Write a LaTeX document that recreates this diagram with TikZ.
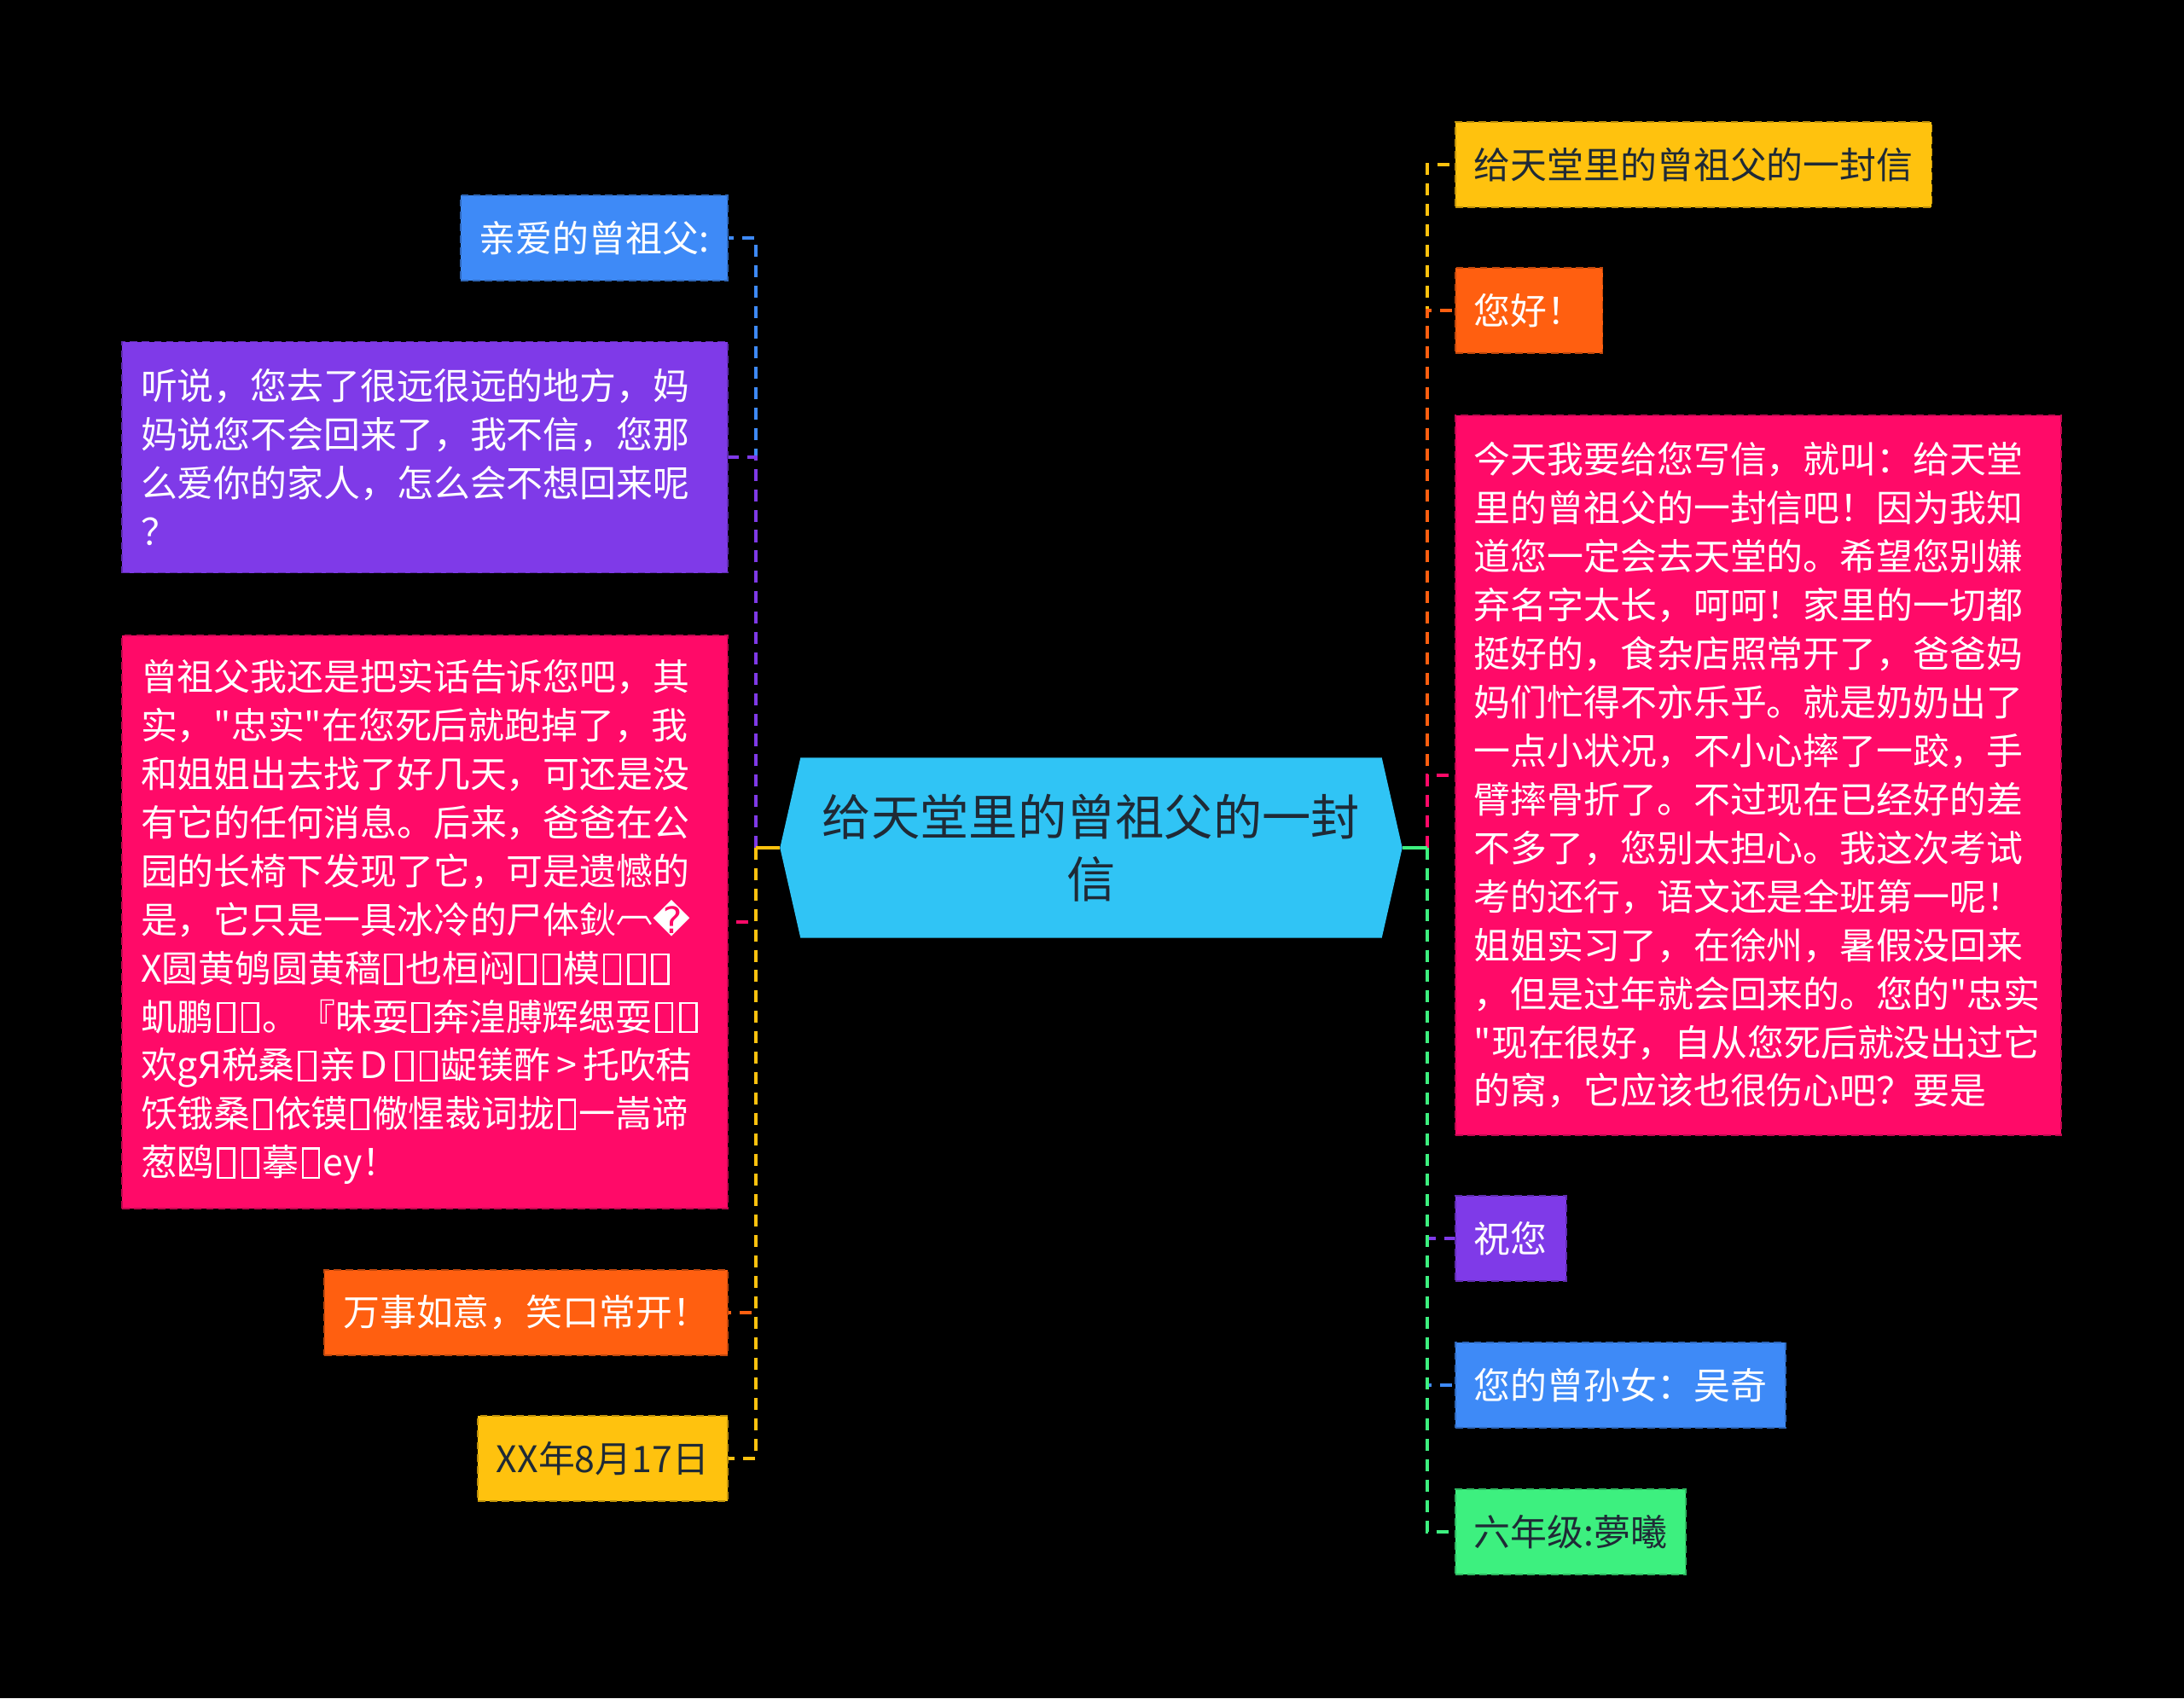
\documentclass[tikz,border=0pt]{standalone}
\usepackage{fontspec}
\setmainfont{Noto Sans CJK SC}[Ligatures=TeXOff]
\newfontfamily\dejavu{DejaVu Sans}
\usetikzlibrary{positioning,backgrounds}

\definecolor{cblue}{HTML}{3E8AF7}
\definecolor{cpurple}{HTML}{7F3AE8}
\definecolor{cpink}{HTML}{FF0A68}
\definecolor{corange}{HTML}{FF5F10}
\definecolor{cyellow}{HTML}{FFC20E}
\definecolor{cgreen}{HTML}{3DF07F}
\definecolor{ccyan}{HTML}{30C4F5}
\definecolor{ctext}{HTML}{1F2A36}

% empty glyph box as printed in the picture
\newcommand\tofu{\kern.08em\raisebox{-.02em}{\setlength\fboxsep{0pt}\setlength\fboxrule{.06em}\fbox{\rule{0pt}{.74em}\rule{.38em}{0pt}}}\kern.08em}

\begin{document}
\begin{tikzpicture}[
    topic/.style={rectangle, fill=#1, draw=#1!75!black, dash pattern=on 2.5pt off 1.5pt, line width=0.5pt, inner xsep=0.22cm, inner ysep=0pt, minimum height=1cm, text=white, font=\fontsize{12.2pt}{16.2pt}\selectfont},
    para/.style={text width=6.66cm, align=left},
    dark/.style={text=ctext},
    limb/.style={draw=#1, line width=1.1pt, dash pattern=on 4pt off 2.8pt},
    joint/.style={draw=#1, line width=1.1pt}
]
    \useasboundingbox (0,0) rectangle (25.6,-19.91);
    \begin{scope}[on background layer]
        \fill[black] (0,0) rectangle (25.6,-19.91);
    \end{scope}

    % centre
    \node[font=\fontsize{16.3pt}{20.9pt}\selectfont, text=ctext, align=center, minimum width=7.28cm, minimum height=2.1cm, inner sep=0pt] (root) at (12.79,-9.94) {给天堂里的曾祖父的一封\\信};
    \begin{scope}[on background layer]
        \fill[ccyan] ([xshift=0.24cm]root.north west) -- ([xshift=-0.24cm]root.north east) -- (root.east) -- ([xshift=-0.24cm]root.south east) -- ([xshift=0.24cm]root.south west) -- (root.west) -- cycle;
    \end{scope}
    \coordinate (lhub) at (8.86,-9.94);
    \coordinate (rhub) at (16.73,-9.94);

    % left side
    \node[topic=cblue, anchor=east] (dear) at (8.54,-2.79) {亲爱的曾祖父:};
    \node[topic=cpurple, para, anchor=east, minimum height=2.71cm] (heard) at (8.54,-5.36) {听说，您去了很远很远的地方，妈\\妈说您不会回来了，我不信，您那\\么爱你的家人，怎么会不想回来呢\\？};
    \node[topic=cpink, para, anchor=east, minimum height=6.72cm] (truth) at (8.54,-10.81) {曾祖父我还是把实话告诉您吧，其\\实，"忠实"在您死后就跑掉了，我\\和姐姐出去找了好几天，可还是没\\有它的任何消息。后来，爸爸在公\\园的长椅下发现了它，可是遗憾的\\是，它只是一具冰冷的尸体鈥\raisebox{.3em}{︹}{\dejavu �}\\X圆黄鸲圆黄穑\tofu 也桓闷\tofu\tofu 模\tofu\tofu\tofu\\虮鹏\tofu\tofu 。『昧耍\tofu 奔湟膊辉缌耍\tofu\tofu\\欢gЯ税桑\tofu 亲Ｄ\tofu\tofu 龊镁酢\,>\,托吹秸\\饫锇桑\tofu 依镆\tofu 儆惺裁词拢\tofu 一嵩谛\\葱鸥\tofu\tofu 摹\tofu ey！};
    \node[topic=corange, anchor=east] (wish) at (8.54,-15.39) {万事如意，笑口常开！};
    \node[topic=cyellow, dark, anchor=east] (date) at (8.54,-17.10) {XX年8月17日};

    % right side
    \node[topic=cyellow, dark, anchor=west] (title) at (17.05,-1.93) {给天堂里的曾祖父的一封信};
    \node[topic=corange, anchor=west] (hello) at (17.05,-3.64) {您好！};
    \node[topic=cpink, para, anchor=west, minimum height=8.44cm] (today) at (17.05,-9.09) {今天我要给您写信，就叫：给天堂\\里的曾祖父的一封信吧！因为我知\\道您一定会去天堂的。希望您别嫌\\弃名字太长，呵呵！家里的一切都\\挺好的，食杂店照常开了，爸爸妈\\妈们忙得不亦乐乎。就是奶奶出了\\一点小状况，不小心摔了一跤，手\\臂摔骨折了。不过现在已经好的差\\不多了，您别太担心。我这次考试\\考的还行，语文还是全班第一呢！\\姐姐实习了，在徐州，暑假没回来\\，但是过年就会回来的。您的"忠实\\"现在很好，自从您死后就没出过它\\的窝，它应该也很伤心吧？要是};
    \node[topic=cpurple, anchor=west] (bless) at (17.05,-14.52) {祝您};
    \node[topic=cblue, anchor=west] (signer) at (17.05,-16.24) {您的曾孙女：吴奇};
    \node[topic=cgreen, dark, anchor=west] (grade) at (17.05,-17.96) {六年级:夢曦};

    % connectors, left
    \draw[joint=cblue] (root.west) -- (lhub);
    \draw[limb=cblue] (lhub) |- (dear.east);
    \draw[joint=cpurple] (root.west) -- (lhub);
    \draw[limb=cpurple] (lhub) |- (heard.east);
    \draw[joint=cpink] (root.west) -- (lhub);
    \draw[limb=cpink] (lhub) |- (truth.east);
    \draw[joint=corange] (root.west) -- (lhub);
    \draw[limb=corange] (lhub) |- (wish.east);
    \draw[joint=cyellow] (root.west) -- (lhub);
    \draw[limb=cyellow] (lhub) |- (date.east);

    % connectors, right
    \draw[joint=cyellow] (root.east) -- (rhub);
    \draw[limb=cyellow] (rhub) |- (title.west);
    \draw[joint=corange] (root.east) -- (rhub);
    \draw[limb=corange] (rhub) |- (hello.west);
    \draw[joint=cpink] (root.east) -- (rhub);
    \draw[limb=cpink] (rhub) |- (today.west);
    \draw[joint=cpurple] (root.east) -- (rhub);
    \draw[limb=cpurple] (rhub) |- (bless.west);
    \draw[joint=cblue] (root.east) -- (rhub);
    \draw[limb=cblue] (rhub) |- (signer.west);
    \draw[joint=cgreen] (root.east) -- (rhub);
    \draw[limb=cgreen] (rhub) |- (grade.west);
\end{tikzpicture}
\end{document}
